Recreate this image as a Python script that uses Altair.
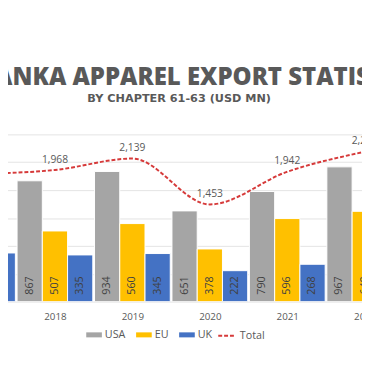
import altair as alt
import pandas as pd

# ---- data ----
years = [2017, 2018, 2019, 2020, 2021, 2022]
usa = [None, 867, 934, 651, 790, 967]
eu = [None, 507, 560, 378, 596, 648]
uk = [349, 335, 345, 222, 268, None]
total = [1910, 1968, 2139, 1453, 1942, 2240]
total_labels = ["1,910", "1,968", "2,139", "1,453", "1,942", "2,240"]

series_names = ["USA", "EU", "UK"]
series_colors = ["#a5a5a5", "#ffc000", "#4472c4"]
line_color = "#d63a3a"
text_color = "#595959"

rows = []
for i, (name, vals) in enumerate(zip(series_names, [usa, eu, uk])):
    for yr, v in zip(years, vals):
        if v is not None:
            rows.append({"year": yr, "series": name, "idx": i, "value": v})
bars_df = pd.DataFrame(rows)
total_df = pd.DataFrame({"year": years, "total": total, "label": total_labels,
                         "name": ["Total"] * len(years)})

BW = 0.326  # bar width in years
x_scale = alt.Scale(domain=[2017, 2022], range=[-31.2, 364.8])
y1_scale = alt.Scale(domain=[0, 1200])
y2_scale = alt.Scale(domain=[0, 2500])

x_axis = alt.Axis(values=years, format="d", title=None, ticks=False, tickSize=0,
                  domain=False, grid=False, labelFlush=False, labelOverlap=False,
                  labelFont="Open Sans", labelFontSize=10, labelColor=text_color,
                  labelPadding=10)

bars = alt.Chart(bars_df).transform_calculate(
    x0=f"datum.year + (datum.idx - 1.5) * {BW}",
    x1=f"datum.year + (datum.idx - 0.5) * {BW}",
    zero="0",
).mark_bar(stroke="white", strokeWidth=1, clip=True).encode(
    x=alt.X("x0:Q", scale=x_scale, axis=x_axis),
    x2="x1:Q",
    y=alt.Y("value:Q", scale=y1_scale,
            axis=alt.Axis(values=list(range(0, 1201, 200)), labels=False, ticks=False,
                          domain=False, title=None, grid=True, gridColor="#e3e3e3",
                          gridWidth=1)),
    y2="zero:Q",
    color=alt.Color("series:N",
                    scale=alt.Scale(domain=series_names, range=series_colors),
                    legend=alt.Legend(orient="none", legendX=80, legendY=197,
                                      direction="horizontal", title=None,
                                      symbolType="M-1,-0.32H1V0.32H-1Z",
                                      symbolSize=256, symbolStrokeWidth=0,
                                      labelFont="Open Sans", labelFontSize=11,
                                      labelColor=text_color, labelOffset=3,
                                      columnPadding=10)),
)

bar_text = alt.Chart(bars_df).transform_calculate(
    xc=f"datum.year + (datum.idx - 1) * {BW}",
    zero="0",
).mark_text(angle=270, align="left", baseline="middle", dx=7, fontSize=11,
            font="Open Sans", color="#404040", clip=True).encode(
    x=alt.X("xc:Q", scale=x_scale, axis=x_axis),
    y=alt.Y("zero:Q", scale=y1_scale, axis=None),
    text="value:Q",
)

line = alt.Chart(total_df).mark_line(interpolate="monotone", strokeWidth=2,
                                     color=line_color, clip=True).encode(
    x=alt.X("year:Q", scale=x_scale, axis=x_axis),
    y=alt.Y("total:Q", scale=y2_scale, axis=None),
    strokeDash=alt.StrokeDash("name:N",
                              scale=alt.Scale(domain=["Total"], range=[[4, 2]]),
                              legend=alt.Legend(orient="none", legendX=214, legendY=196,
                                                title=None, symbolType="stroke",
                                                symbolSize=324, symbolStrokeColor=line_color,
                                                symbolStrokeWidth=2,
                                                labelFont="Open Sans", labelFontSize=11,
                                                labelColor=text_color, labelOffset=3)),
)

total_text = alt.Chart(total_df).mark_text(dy=-10.5, baseline="middle", fontSize=10.5,
                                           font="Open Sans", color=text_color).encode(
    x=alt.X("year:Q", scale=x_scale, axis=x_axis),
    y=alt.Y("total:Q", scale=y2_scale, axis=None),
    text="label:N",
)

chart = alt.layer(bars, bar_text, line, total_text).resolve_scale(
    y="independent"
).properties(
    width=362,
    height=171,
    padding={"left": 0, "right": 0, "top": 125, "bottom": 80},
    autosize=alt.AutoSizeParams(type="none"),
    background="white",
    title=alt.TitleParams(
        text="SRI LANKA APPAREL EXPORT STATISTICS",
        subtitle="BY CHAPTER 61-63 (USD MN)",
        font="Open Sans", fontSize=24.5, fontWeight=800, color=text_color,
        subtitleFont="DejaVu Sans", subtitleFontSize=11.5, subtitleFontWeight="bold",
        subtitleColor=text_color, subtitlePadding=3,
        anchor="middle", frame="group", dx=-6, offset=30,
    ),
).configure_view(strokeWidth=0)

chart.save("out.html", embed_options={"renderer": "svg", "actions": False})
